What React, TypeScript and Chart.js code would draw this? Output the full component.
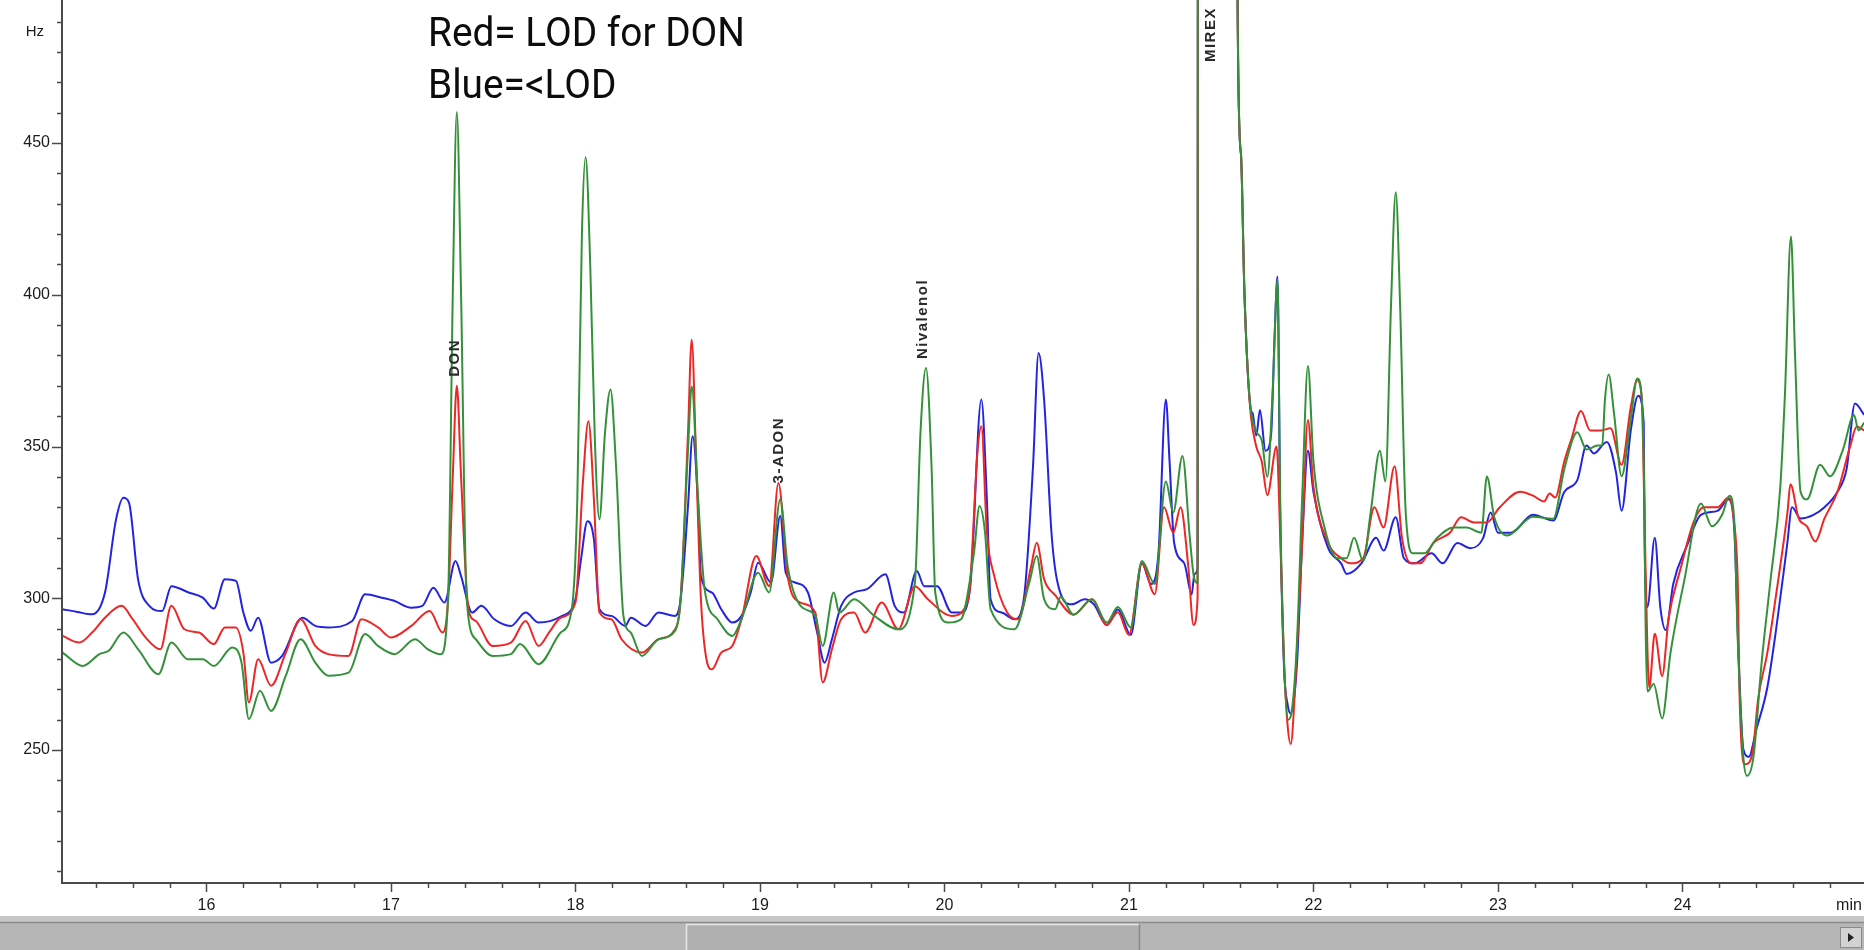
import React, { useEffect, useRef } from 'react';
import { Chart, registerables } from 'chart.js';

Chart.register(...registerables);

// ---- Data (retention time in min, detector signal in Hz) ----
const blueSeries: [number, number][] = [
  [15.22, 296.4], [15.30, 295.5], [15.38, 294.7], [15.45, 301.9], [15.51, 326], [15.55, 333.1], [15.58, 331.5],
  [15.63, 306], [15.69, 297.5], [15.76, 295.8], [15.81, 304], [15.90, 302], [15.98, 300.2], [16.04, 296.6],
  [16.10, 306.3], [16.16, 305.7], [16.20, 295.3], [16.24, 289.3], [16.28, 293.6], [16.35, 278.8], [16.41, 281],
  [16.52, 293.6], [16.59, 290.9], [16.66, 290.4], [16.79, 292.5], [16.86, 301.3], [16.95, 300.2], [17.02, 299.1],
  [17.11, 296.9], [17.17, 297.5], [17.23, 303.5], [17.29, 298.6], [17.35, 312.3], [17.38, 307.3], [17.44, 295.3],
  [17.49, 297.5], [17.56, 293.1], [17.65, 290.9], [17.73, 295.3], [17.80, 292], [17.92, 294], [18.00, 299.7],
  [18.03, 312.8], [18.065, 325.4], [18.10, 319.4], [18.13, 296.4], [18.195, 294.2], [18.27, 290.9], [18.30, 293.6],
  [18.38, 290.9], [18.45, 295.3], [18.54, 294.2], [18.57, 299.7], [18.61, 330.4], [18.635, 353.4], [18.665, 330.4],
  [18.68, 307.3], [18.74, 301.9], [18.79, 296.4], [18.85, 292], [18.90, 294.2], [18.95, 301.9], [18.99, 311.7],
  [19.06, 305.2], [19.11, 327.1], [19.14, 308.4], [19.19, 305.2], [19.26, 301.9], [19.31, 288.7], [19.35, 278.8],
  [19.39, 286.5], [19.44, 297.5], [19.51, 301.9], [19.58, 303], [19.68, 307.9], [19.73, 297.5], [19.78, 295.3],
  [19.85, 309], [19.89, 304], [19.96, 304], [20.04, 295.3], [20.09, 295.3], [20.14, 304], [20.20, 365.5],
  [20.23, 332.6], [20.25, 299.7], [20.31, 295.3], [20.38, 293.1], [20.43, 299.7], [20.48, 343.5], [20.51, 380.8],
  [20.54, 365.5], [20.58, 321.6], [20.61, 306], [20.69, 298], [20.76, 299.7], [20.81, 298], [20.88, 291.2],
  [20.94, 296.3], [21.01, 287.9], [21.07, 311.5], [21.12, 304.7], [21.16, 315], [21.20, 365.5], [21.22, 345.2],
  [21.245, 318.2], [21.30, 311.5], [21.34, 301.3], [21.355, 308], [21.372, 310], [21.374, 600], [21.587, 600],
  [21.589, 494.5], [21.607, 446.4], [21.625, 402.6], [21.643, 375.6], [21.661, 362], [21.67, 361], [21.69, 353.6],
  [21.71, 362], [21.74, 348.6], [21.77, 353.6], [21.79, 387.4], [21.805, 406], [21.82, 328], [21.84, 277.7],
  [21.86, 265], [21.877, 262], [21.91, 277.7], [21.94, 320], [21.97, 348.6], [22.00, 335.1], [22.08, 316.5],
  [22.15, 311.5], [22.18, 308], [22.26, 311.5], [22.34, 319.9], [22.38, 315.7], [22.446, 326.7], [22.49, 313.2],
  [22.55, 311.5], [22.64, 314.8], [22.70, 311.5], [22.78, 318.2], [22.85, 316.5], [22.92, 319.9], [22.96, 328.3],
  [23.00, 321.6], [23.07, 321.6], [23.19, 327.5], [23.30, 325.6], [23.36, 335.1], [23.43, 338.9], [23.48, 350.3],
  [23.52, 347.7], [23.59, 351.5], [23.64, 341.4], [23.67, 328.8], [23.72, 355.3], [23.76, 366.7], [23.79, 357.9],
  [23.795, 317.4], [23.81, 297.1], [23.85, 319.9], [23.88, 297.1], [23.91, 289.5], [23.95, 304.7], [24.025, 317.4],
  [24.10, 327.5], [24.19, 328.8], [24.25, 332.6], [24.28, 323.7], [24.305, 279.4], [24.33, 250.3], [24.36, 247.8],
  [24.40, 256.7], [24.46, 270.6], [24.51, 290.8], [24.567, 317.4], [24.594, 330], [24.64, 326.3], [24.71, 327.5],
  [24.77, 330], [24.84, 335.1], [24.89, 342.7], [24.935, 364.2], [24.985, 360.4],
];

const redSeries: [number, number][] = [
  [15.22, 287.6], [15.31, 285.4], [15.38, 288.7], [15.45, 293.6], [15.54, 297.5], [15.60, 293.1], [15.67, 287.1],
  [15.75, 283.2], [15.81, 297.5], [15.88, 289.8], [15.96, 288.7], [16.04, 284.9], [16.10, 290.4], [16.16, 290.4],
  [16.20, 282.1], [16.23, 265.7], [16.28, 279.9], [16.35, 271.2], [16.43, 282.1], [16.51, 293.1], [16.59, 284.3],
  [16.66, 281.6], [16.77, 281], [16.84, 293.1], [16.93, 290.4], [17.00, 287.1], [17.11, 290.9], [17.21, 295.8],
  [17.28, 288.7], [17.31, 300], [17.335, 340], [17.357, 370], [17.38, 340], [17.42, 296.4], [17.46, 292.5],
  [17.55, 284.3], [17.65, 285.4], [17.73, 292.5], [17.80, 284.3], [17.86, 289], [17.92, 293.6], [18.00, 298.6],
  [18.04, 338], [18.07, 358.3], [18.10, 332.6], [18.13, 295.3], [18.195, 293.1], [18.25, 286.5], [18.36, 282.1],
  [18.45, 286.5], [18.54, 289.8], [18.57, 299.7], [18.61, 354.5], [18.63, 385.2], [18.655, 343.5], [18.68, 299.7],
  [18.71, 279.9], [18.74, 276.6], [18.79, 282.1], [18.85, 284.3], [18.90, 293.1], [18.98, 313.9], [19.05, 304],
  [19.10, 338], [19.15, 307.3], [19.22, 298.6], [19.30, 295.3], [19.34, 272.3], [19.39, 283.2], [19.44, 293.1],
  [19.51, 295.3], [19.57, 288.7], [19.66, 298.6], [19.75, 289.8], [19.84, 304], [19.91, 299.7], [20.04, 294.2],
  [20.13, 299.7], [20.18, 349], [20.20, 356.7], [20.23, 321.6], [20.27, 307.3], [20.34, 295.3], [20.40, 293.1],
  [20.47, 310.6], [20.50, 318.3], [20.54, 306.3], [20.60, 301], [20.70, 294.6], [20.80, 299.7], [20.88, 291.2],
  [20.94, 295.4], [21.00, 287.9], [21.07, 311.5], [21.14, 301.3], [21.19, 330], [21.24, 321.6], [21.28, 330],
  [21.32, 311.5], [21.35, 291.2], [21.372, 300], [21.374, 600], [21.587, 600], [21.589, 494.5], [21.607, 446.4],
  [21.625, 402.6], [21.643, 375.6], [21.661, 360], [21.69, 350], [21.72, 345], [21.75, 334], [21.80, 350],
  [21.82, 320], [21.84, 280], [21.86, 258], [21.877, 252], [21.90, 270], [21.94, 320], [21.97, 358.7],
  [22.00, 336.8], [22.08, 318.2], [22.15, 313.2], [22.20, 311.5], [22.27, 313.2], [22.33, 330], [22.38, 323.3],
  [22.44, 343.5], [22.48, 319.9], [22.53, 311.5], [22.58, 311.5], [22.65, 318.2], [22.74, 321.6], [22.80, 326.7],
  [22.87, 325], [22.94, 325], [23.01, 330], [23.12, 335.1], [23.19, 333.8], [23.25, 331.9], [23.28, 334.5],
  [23.31, 333.2], [23.36, 345.2], [23.40, 352.8], [23.45, 361.7], [23.50, 355.3], [23.56, 355.3], [23.61, 356],
  [23.67, 344], [23.72, 363], [23.755, 371.8], [23.78, 365.5], [23.79, 340.2], [23.80, 309.8], [23.82, 270.6],
  [23.85, 288.3], [23.89, 274.4], [23.925, 293.4], [23.99, 309.8], [24.06, 325], [24.115, 330], [24.19, 330],
  [24.25, 333.2], [24.28, 325], [24.30, 304.7], [24.31, 266.8], [24.34, 245.3], [24.38, 249.1], [24.41, 266.8],
  [24.46, 282], [24.51, 302.2], [24.57, 328.8], [24.585, 337.6], [24.63, 326.3], [24.675, 323.7], [24.72, 318.7],
  [24.77, 326.3], [24.84, 335.1], [24.91, 350.3], [24.945, 356.6], [24.985, 355.3],
];

const greenSeries: [number, number][] = [
  [15.22, 282.1], [15.33, 277.7], [15.42, 281.6], [15.47, 282.7], [15.55, 288.7], [15.63, 283.2], [15.74, 275],
  [15.81, 285.4], [15.90, 279.9], [15.98, 279.9], [16.04, 277.7], [16.14, 283.8], [16.19, 278.8], [16.23, 260.2],
  [16.29, 269.5], [16.35, 262.9], [16.43, 274.5], [16.51, 286.5], [16.59, 278.8], [16.66, 274.5], [16.77, 275.5],
  [16.86, 288.2], [16.93, 284.3], [17.02, 281.6], [17.13, 286.5], [17.20, 283.2], [17.27, 281.6], [17.31, 300.8],
  [17.335, 400], [17.357, 460.2], [17.38, 400], [17.41, 300], [17.46, 286.5], [17.55, 281], [17.65, 281.6],
  [17.70, 284.9], [17.80, 278.3], [17.92, 288.7], [17.98, 296.4], [18.01, 332.6], [18.035, 420], [18.055, 445.3],
  [18.08, 410], [18.105, 352.3], [18.13, 326], [18.16, 354.5], [18.19, 368.8], [18.22, 343.5], [18.26, 294.2],
  [18.30, 288.7], [18.36, 281], [18.45, 286.5], [18.54, 289.3], [18.57, 299.7], [18.61, 349], [18.63, 369.8],
  [18.665, 332.6], [18.70, 303], [18.77, 293.1], [18.85, 287.6], [18.90, 293.1], [18.99, 308.4], [19.05, 301.9],
  [19.11, 332.6], [19.15, 310.6], [19.22, 297.5], [19.30, 294.2], [19.34, 284.3], [19.40, 301.9], [19.43, 295.3],
  [19.51, 299.7], [19.62, 294.2], [19.75, 289.8], [19.84, 305.2], [19.87, 354.5], [19.90, 375.9], [19.93, 343.5],
  [19.95, 301.9], [20.02, 292], [20.09, 293.1], [20.16, 315], [20.19, 330.4], [20.22, 321.6], [20.25, 296.4],
  [20.38, 289.8], [20.46, 305.2], [20.50, 313.9], [20.54, 299.7], [20.60, 296.4], [20.63, 300.5], [20.70, 294.6],
  [20.80, 299.7], [20.88, 292], [20.94, 297.1], [21.01, 290.4], [21.07, 312.3], [21.14, 304.7], [21.20, 338.5],
  [21.24, 328.3], [21.29, 346.9], [21.33, 319.9], [21.354, 306.4], [21.372, 305], [21.374, 600], [21.587, 600],
  [21.589, 494.5], [21.607, 446.4], [21.625, 402.6], [21.643, 375.6], [21.661, 362], [21.69, 355], [21.72, 352],
  [21.75, 340], [21.78, 370], [21.805, 405], [21.82, 330], [21.84, 280], [21.862, 260], [21.88, 262],
  [21.91, 285], [21.94, 335], [21.97, 376.5], [22.00, 345.2], [22.06, 323.3], [22.13, 313.2], [22.18, 313.2],
  [22.22, 319.9], [22.27, 312.3], [22.31, 328.3], [22.36, 348.6], [22.39, 338.5], [22.42, 395.8], [22.446, 433.8],
  [22.47, 395.8], [22.50, 328.3], [22.54, 314.8], [22.60, 314.8], [22.67, 319.9], [22.76, 323.3], [22.83, 323.3],
  [22.91, 321.6], [22.94, 340.1], [22.98, 326.7], [23.05, 320.7], [23.19, 326.9], [23.30, 326.2], [23.36, 342.7],
  [23.43, 354.7], [23.48, 349], [23.54, 350.3], [23.565, 350.3], [23.58, 365.5], [23.60, 373.7], [23.63, 360.4],
  [23.67, 340.2], [23.72, 359.1], [23.755, 372.4], [23.78, 365.5], [23.794, 330], [23.80, 292], [23.81, 269.3],
  [23.844, 271.8], [23.89, 260.4], [23.935, 281.9], [24.01, 305.9], [24.10, 331.2], [24.16, 323.7], [24.215, 327.5],
  [24.255, 333.8], [24.28, 326.3], [24.30, 285.8], [24.33, 247.8], [24.35, 241.5], [24.385, 247.8], [24.43, 279.4],
  [24.475, 304.7], [24.53, 336.4], [24.556, 368], [24.588, 419.2], [24.61, 380.6], [24.64, 335.1], [24.675, 332.6],
  [24.746, 344], [24.80, 340.2], [24.87, 349], [24.93, 360.4], [24.954, 355.3], [24.985, 357.9],
];

const xTickLabels = ['16', '17', '18', '19', '20', '21', '22', '23', '24'];
const yTickLabels = ['250', '300', '350', '400', '450'];
const xUnitLabel = 'min';
const yUnitLabel = 'Hz';

const peakNames = ['DON', '3-ADON', 'Nivalenol', 'MIREX'];
const peakTimes = [17.349, 19.103, 19.882, 21.443];
const peakLabelLevels = [379.2, 348.8, 392, 485.7];

const legendLines = ['Red= LOD for DON', 'Blue=<LOD'];

// ---- Styles ----
const BLUE = 'rgb(35,35,225)';
const RED = 'rgb(238,38,38)';
const GREEN = 'rgb(52,145,58)';
const AXIS = '#4a4a4a';
const TEXT = '#1c1c1c';

const X_MIN = 15.217;
const X_MAX = 24.984;
const Y_MIN = 206.2;
const Y_MAX = 497.1;

const toPoints = (s: [number, number][]) => s.map(([x, y]) => ({ x, y }));

const decorPlugin = {
  id: 'chromDecor',
  afterDraw(chart: any) {
    const { ctx, chartArea: a, scales } = chart;
    const xs = scales.x;
    const ys = scales.y;
    const W = chart.width;
    const H = chart.height;
    ctx.save();

    // axes
    ctx.strokeStyle = AXIS;
    ctx.lineWidth = 2;
    ctx.beginPath();
    ctx.moveTo(a.left, a.top);
    ctx.lineTo(a.left, a.bottom);
    ctx.lineTo(a.right, a.bottom);
    ctx.stroke();

    // y ticks
    ctx.lineWidth = 1.5;
    for (let v = 210; v <= 490; v += 10) {
      const py = Math.round(ys.getPixelForValue(v)) + 0.5;
      const major = v % 50 === 0;
      ctx.beginPath();
      ctx.moveTo(a.left - (major ? 10 : 5), py);
      ctx.lineTo(a.left, py);
      ctx.stroke();
    }
    // x ticks
    for (let i = Math.ceil(X_MIN * 5); i <= Math.floor(X_MAX * 5); i++) {
      const px = Math.round(xs.getPixelForValue(i / 5)) + 0.5;
      const major = i % 5 === 0;
      ctx.beginPath();
      ctx.moveTo(px, a.bottom);
      ctx.lineTo(px, a.bottom + (major ? 9 : 5));
      ctx.stroke();
    }

    // tick labels
    ctx.fillStyle = TEXT;
    ctx.font = '16px "Liberation Sans", Arial, sans-serif';
    ctx.textAlign = 'right';
    ctx.textBaseline = 'middle';
    yTickLabels.forEach((l) => ctx.fillText(l, a.left - 12, ys.getPixelForValue(Number(l))));
    ctx.font = '15px "Liberation Sans", Arial, sans-serif';
    ctx.fillText(yUnitLabel, a.left - 18, a.top + 32);
    ctx.font = '16px "Liberation Sans", Arial, sans-serif';
    ctx.textAlign = 'center';
    xTickLabels.forEach((l) => ctx.fillText(l, xs.getPixelForValue(Number(l)), a.bottom + 23));
    ctx.fillText(xUnitLabel, a.right - 15, a.bottom + 23);

    // peak labels (rotated)
    ctx.font = 'bold 15px "Liberation Sans", Arial, sans-serif';
    (ctx as any).letterSpacing = '1.5px';
    ctx.fillStyle = '#2a2a2a';
    peakNames.forEach((name, i) => {
      const px = xs.getPixelForValue(peakTimes[i]);
      const py = ys.getPixelForValue(peakLabelLevels[i]);
      ctx.save();
      ctx.translate(px, py);
      ctx.rotate(-Math.PI / 2);
      ctx.textAlign = 'center';
      ctx.textBaseline = 'middle';
      ctx.fillText(name, 0, 0);
      ctx.restore();
    });
    (ctx as any).letterSpacing = '0px';

    // legend text
    ctx.fillStyle = '#0c0c0c';
    ctx.font = '40px Roboto, "Liberation Sans", sans-serif';
    ctx.textAlign = 'left';
    ctx.textBaseline = 'alphabetic';
    const w0 = ctx.measureText(legendLines[0]).width;
    const sx = 317 / w0;
    const baselines = [46, 97.5];
    legendLines.forEach((line, i) => {
      ctx.save();
      ctx.translate(428, baselines[i]);
      ctx.scale(sx, 1);
      ctx.fillText(line, 0, 0);
      ctx.restore();
    });

    // scroll bar
    const sbTop = 916;
    ctx.fillStyle = '#c6c6c6';
    ctx.fillRect(0, sbTop, W, H - sbTop);
    ctx.fillStyle = '#b6b6b6';
    ctx.fillRect(0, sbTop + 7, W, H - sbTop - 7);
    ctx.strokeStyle = '#8c8c8c';
    ctx.lineWidth = 1.5;
    ctx.beginPath();
    ctx.moveTo(0, sbTop + 6.5);
    ctx.lineTo(W, sbTop + 6.5);
    ctx.stroke();
    // thumb
    ctx.fillStyle = '#b0b0b0';
    ctx.fillRect(686, sbTop + 8, 453, H - sbTop - 8);
    ctx.strokeStyle = '#e6e6e6';
    ctx.lineWidth = 1.5;
    ctx.beginPath();
    ctx.moveTo(686.5, H);
    ctx.lineTo(686.5, sbTop + 8.5);
    ctx.lineTo(1139, sbTop + 8.5);
    ctx.stroke();
    ctx.strokeStyle = '#8a8a8a';
    ctx.beginPath();
    ctx.moveTo(1139.5, sbTop + 8);
    ctx.lineTo(1139.5, H);
    ctx.stroke();
    // right arrow button
    ctx.fillStyle = '#d2d2d2';
    ctx.fillRect(1840, 927, 22, 21);
    ctx.strokeStyle = '#8a8a8a';
    ctx.lineWidth = 1;
    ctx.strokeRect(1840.5, 927.5, 21, 20);
    ctx.fillStyle = '#222';
    ctx.beginPath();
    ctx.moveTo(1848, 933);
    ctx.lineTo(1854, 937.5);
    ctx.lineTo(1848, 942);
    ctx.closePath();
    ctx.fill();

    ctx.restore();
  },
};

export default function App() {
  const canvasRef = useRef<HTMLCanvasElement | null>(null);

  useEffect(() => {
    document.body.style.margin = '0';
    document.body.style.background = '#ffffff';
    const canvas = canvasRef.current;
    if (!canvas) return;
    const common = {
      borderWidth: 2,
      pointRadius: 0,
      pointHoverRadius: 0,
      fill: false,
      cubicInterpolationMode: 'monotone' as const,
      clip: 0,
    };
    const chart = new Chart(canvas, {
      type: 'line',
      data: {
        datasets: [
          { label: 'Green', data: toPoints(greenSeries), borderColor: GREEN, order: 0, ...common },
          { label: 'Red', data: toPoints(redSeries), borderColor: RED, order: 1, ...common },
          { label: 'Blue', data: toPoints(blueSeries), borderColor: BLUE, order: 2, ...common },
        ],
      },
      options: {
        responsive: false,
        animation: false,
        devicePixelRatio: 1,
        events: [],
        layout: { padding: { left: 62, right: 0, top: 0, bottom: 67 } },
        scales: {
          x: { type: 'linear', min: X_MIN, max: X_MAX, display: false },
          y: { type: 'linear', min: Y_MIN, max: Y_MAX, display: false },
        },
        plugins: { legend: { display: false }, tooltip: { enabled: false } },
      },
      plugins: [decorPlugin],
    });
    return () => chart.destroy();
  }, []);

  return (
    <div style={{ width: 1864, height: 950, position: 'relative', background: '#fff' }}>
      <canvas ref={canvasRef} width={1864} height={950} style={{ display: 'block' }} />
    </div>
  );
}
